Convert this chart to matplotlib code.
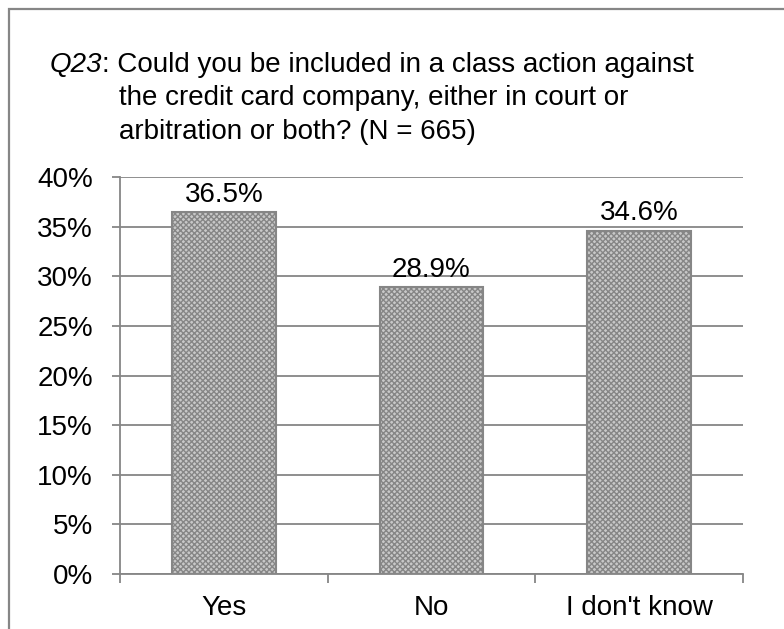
import matplotlib
matplotlib.use("Agg")
import matplotlib.pyplot as plt
from matplotlib.patches import Rectangle

categories = ["Yes", "No", "I don't know"]
values = [36.5, 28.9, 34.6]
yticks = [0, 5, 10, 15, 20, 25, 30, 35, 40]
title_q = "Q23"
title_lines = [": Could you be included in a class action against",
               "the credit card company, either in court or",
               "arbitration or both? (N = 665)"]

plt.rcParams['font.family'] = ['Liberation Sans', 'DejaVu Sans']
FS = 20
GRAY = '#868686'
plt.rcParams['hatch.color'] = '#7a7a7a'
plt.rcParams['hatch.linewidth'] = 1.0

W, H = 784, 629
fig = plt.figure(figsize=(W/100, H/100), dpi=100)
ax = fig.add_axes([120/W, 1-574/H, (743-120)/W, (574-177)/H])

x = range(len(categories))
ax.bar(x, values, width=0.5, color='#c8c8c8', edgecolor=GRAY,
       linewidth=1.5, hatch='xxxxxx', zorder=3)
for xi, v in zip(x, values):
    ax.annotate(f"{v:.1f}%", (xi, v), xytext=(0, 3), textcoords='offset points',
                ha='center', va='bottom', fontsize=FS)

ax.set_xlim(-0.5, len(categories)-0.5)
ax.set_ylim(0, 40)
ax.set_yticks(yticks)
ax.set_yticklabels([f"{t}%" for t in yticks], fontsize=FS)
ax.yaxis.grid(True, color=GRAY, linewidth=1.3, zorder=0)
ax.set_axisbelow(True)
ax.set_xticks(list(x))
ax.set_xticklabels(categories, fontsize=FS)
ax.tick_params(axis='x', length=0, pad=15)
ax.set_xticks([-0.5, 0.5, 1.5, 2.5], minor=True)
ax.tick_params(axis='x', which='minor', length=6.5, width=1.3, color=GRAY)
ax.tick_params(axis='y', length=6, width=1.3, color=GRAY, pad=13.5)
for s in ['top', 'right']:
    ax.spines[s].set_visible(False)
for s in ['left', 'bottom']:
    ax.spines[s].set_color(GRAY)
    ax.spines[s].set_linewidth(1.3)

# outer frame (only top and left visible in the crop)
fig.patches.append(Rectangle((9/W, -0.5), 2.0, 1.5 - 9/H, transform=fig.transFigure,
                             fill=False, edgecolor=GRAY, linewidth=1.6))

# title
t = fig.text(50/W, 1-72/H, title_q, fontsize=FS, style='italic', va='baseline', ha='left')
fig.canvas.draw()
bb = t.get_window_extent()
fig.text(bb.x1 / W, 1-72/H, title_lines[0], fontsize=FS, va='baseline', ha='left')
fig.text(119/W, 1-105/H, title_lines[1], fontsize=FS, va='baseline', ha='left')
fig.text(119/W, 1-139/H, title_lines[2], fontsize=FS, va='baseline', ha='left')

fig.savefig("out.png", dpi=100)
